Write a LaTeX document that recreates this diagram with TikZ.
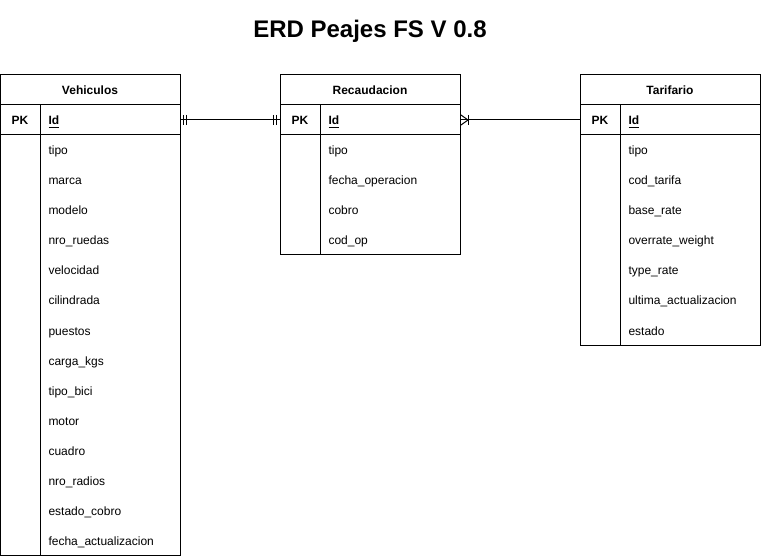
\documentclass[tikz,border=0pt]{standalone}
\usepackage{fontspec}
\setmainfont{Liberation Sans}
\usetikzlibrary{calc}

\begin{document}
\begin{tikzpicture}[x=0.75pt,y=-0.75pt,line width=0.75pt,
    tablehead/.style={anchor=base,inner sep=0pt,font=\bfseries\fontsize{9}{11}\selectfont},
    field/.style={anchor=base west,inner sep=0pt,font=\fontsize{9}{11}\selectfont},
    keyfield/.style={field,font=\bfseries\fontsize{9}{11}\selectfont}]
    \useasboundingbox (0,0) rectangle (761,556);
    \node[font=\bfseries\fontsize{18}{22}\selectfont] (title) at (370,31) {ERD Peajes FS V 0.8};

    % Vehiculos
    \draw (0,75) rectangle (180,555);
    \draw (0,105)--(180,105);
    \draw (0,135)--(180,135);
    \draw (40,105)--(40,555);
    \node[tablehead] (veh) at (90,95) {Vehiculos};
    \node[tablehead] (vehpk) at (20,125) {PK};
    \node[keyfield] (vehid) at (48,125) {\underline{Id}};
    \foreach \f [count=\i] in {tipo,marca,modelo,nro\_ruedas,velocidad,cilindrada,puestos,carga\_kgs,tipo\_bici,motor,cuadro,nro\_radios,estado\_cobro,fecha\_actualizacion}
        \node[field] (veh-\i) at (48,125+30*\i) {\f};

    % Recaudacion
    \draw (280,75) rectangle (460,255);
    \draw (280,105)--(460,105);
    \draw (280,135)--(460,135);
    \draw (320,105)--(320,255);
    \node[tablehead] (rec) at (370,95) {Recaudacion};
    \node[tablehead] (recpk) at (300,125) {PK};
    \node[keyfield] (recid) at (328,125) {\underline{Id}};
    \foreach \f [count=\i] in {tipo,fecha\_operacion,cobro,cod\_op}
        \node[field] (rec-\i) at (328,125+30*\i) {\f};

    % Tarifario
    \draw (580,75) rectangle (760,345);
    \draw (580,105)--(760,105);
    \draw (580,135)--(760,135);
    \draw (620,105)--(620,345);
    \node[tablehead] (tar) at (670,95) {Tarifario};
    \node[tablehead] (tarpk) at (600,125) {PK};
    \node[keyfield] (tarid) at (628,125) {\underline{Id}};
    \foreach \f [count=\i] in {tipo,cod\_tarifa,base\_rate,overrate\_weight,type\_rate,ultima\_actualizacion,estado}
        \node[field] (tar-\i) at (628,125+30*\i) {\f};

    % relaciones
    \coordinate (vehend) at (180,120);
    \coordinate (recwest) at (280,120);
    \coordinate (receast) at (460,120);
    \coordinate (tarend) at (580,120);
    \draw (vehend)--(recwest);
    \draw ($(vehend)+(3,-5)$)--++(0,10);
    \draw ($(vehend)+(6,-5)$)--++(0,10);
    \draw ($(recwest)+(-4,-5)$)--++(0,10);
    \draw ($(recwest)+(-7,-5)$)--++(0,10);
    \draw (receast)--(tarend);
    \draw ($(receast)+(1,-5)$)--($(receast)+(8,0)$)--($(receast)+(1,5)$);
    \draw ($(receast)+(8,-5)$)--++(0,10);
\end{tikzpicture}
\end{document}
